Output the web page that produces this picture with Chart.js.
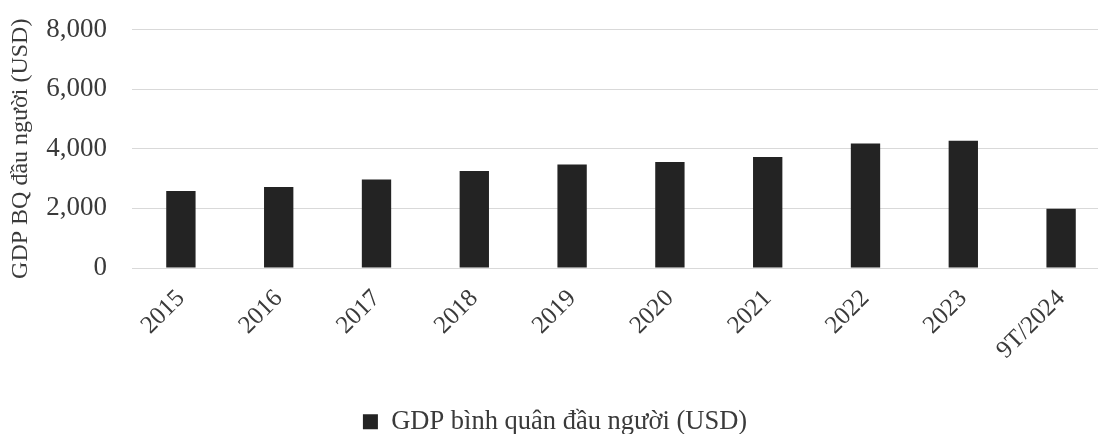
<!DOCTYPE html>
<html>
<head>
<meta charset="utf-8">
<script src="https://cdn.jsdelivr.net/npm/chart.js@4.4.1/dist/chart.umd.min.js"></script>
<style>
  html, body { margin: 0; padding: 0; background: #fff; overflow: hidden; }
  #wrap { width: 1098px; height: 434px; overflow: hidden; position: relative; }
  canvas { display: block; }
</style>
</head>
<body>
<div id="wrap"><canvas id="c" width="1110" height="434"></canvas></div>
<script>
const categories = ["2015", "2016", "2017", "2018", "2019", "2020", "2021", "2022", "2023", "9T/2024"];
const gdpPerCapita = [2580, 2715, 2965, 3255, 3470, 3555, 3725, 4175, 4265, 1990];
const yTicks = [0, 2000, 4000, 6000, 8000];
const seriesLabel = "GDP bình quân đầu người (USD)";
const yTitle = "GDP BQ đầu người (USD)";

const FONT = "'Liberation Serif', 'Times New Roman', serif";
const TXT = "#3a3a3a";

new Chart(document.getElementById('c'), {
  type: 'bar',
  data: {
    labels: categories,
    datasets: [{
      label: seriesLabel,
      data: gdpPerCapita,
      backgroundColor: '#232323',
      borderWidth: 0,
      barPercentage: 0.6,
      categoryPercentage: 0.5
    }]
  },
  options: {
    responsive: false,
    animation: false,
    layout: { padding: { top: 29.5, left: 0, right: 0, bottom: -11 } },
    plugins: {
      legend: {
        position: 'bottom',
        labels: {
          font: { family: FONT, size: 26.5 },
          color: TXT,
          boxWidth: 15,
          boxHeight: 15,
          padding: 0
        }
      },
      tooltip: { enabled: false }
    },
    scales: {
      x: {
        afterFit: (s) => { s.height = 140.5; },
        grid: { display: false, drawTicks: false },
        border: { display: false },
        ticks: {
          font: { family: FONT, size: 25 },
          color: TXT,
          minRotation: 45,
          maxRotation: 45,
          padding: 16,
          autoSkip: false
        }
      },
      y: {
        min: 0,
        max: 8000,
        afterBuildTicks: (s) => { s.ticks = yTicks.map(v => ({ value: v })); },
        afterFit: (s) => { s.width = 132; s.paddingTop = 0; s.paddingBottom = 0; },
        grid: { color: '#d9d9d9', lineWidth: 1, drawTicks: false },
        border: { display: false },
        ticks: {
          font: { family: FONT, size: 27 },
          color: TXT,
          padding: 25,
          callback: (v) => v.toLocaleString('en-US')
        },
        title: {
          display: true,
          text: yTitle,
          font: { family: FONT, size: 24 },
          color: TXT,
          padding: { top: 6, bottom: 0 }
        }
      }
    }
  }
});
</script>
</body>
</html>
